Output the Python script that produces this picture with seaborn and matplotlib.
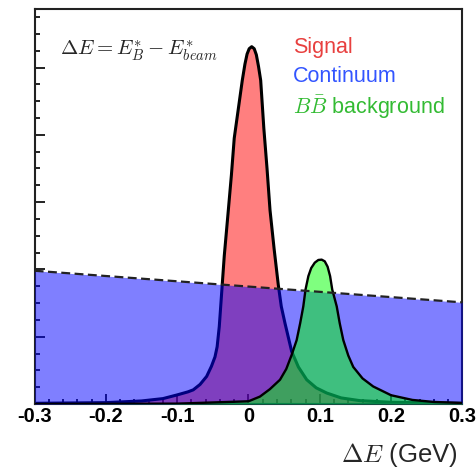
import numpy as np
import pandas as pd
import matplotlib
matplotlib.use("Agg")
import matplotlib.pyplot as plt
import seaborn as sns

# === data (x in GeV, y in arbitrary units) ===
signal_x = [-0.30, -0.20, -0.15, -0.12, -0.10, -0.085, -0.0775, -0.068, -0.0587,
            -0.052, -0.047, -0.044, -0.041, -0.038, -0.034, -0.0283, -0.024,
            -0.020, -0.0087, -0.005, -0.002, 0.001, 0.0045, 0.008, 0.011, 0.014,
            0.0171, 0.0215, 0.026, 0.0302, 0.036, 0.0418, 0.046, 0.0512, 0.0606,
            0.070, 0.0817, 0.095, 0.1097, 0.13, 0.156, 0.20, 0.30]
signal_y = [0.01, 0.02, 0.045, 0.08, 0.135, 0.18, 0.21, 0.29, 0.41,
            0.56, 0.70, 0.85, 1.15, 1.60, 2.20, 2.88, 3.40,
            3.95, 4.81, 5.05, 5.20, 5.28, 5.31, 5.28, 5.19, 5.02,
            4.81, 4.10, 3.50, 2.88, 2.30, 1.77, 1.45, 1.20, 0.78,
            0.55, 0.36, 0.24, 0.163, 0.09, 0.05, 0.025, 0.01]

bb_x = [-0.30, -0.10, 0.0, 0.0161, 0.030, 0.0442, 0.053, 0.0606, 0.0676, 0.0725,
        0.0769, 0.080, 0.084, 0.088, 0.093, 0.098, 0.1027, 0.107, 0.111, 0.1145,
        0.1175, 0.1238, 0.128, 0.133, 0.140, 0.147, 0.160, 0.175, 0.20, 0.23,
        0.26, 0.30]
bb_y = [0.0, 0.005, 0.04, 0.11, 0.22, 0.36, 0.52, 0.73, 0.95, 1.20,
        1.45, 1.70, 1.90, 2.02, 2.10, 2.14, 2.145, 2.12, 2.04, 1.90,
        1.70, 1.45, 1.20, 0.95, 0.72, 0.55, 0.38, 0.26, 0.13, 0.06,
        0.03, 0.015]

cont_x = [-0.30, 0.30]
cont_y = [1.98, 1.51]

xticks = [-0.3, -0.2, -0.1, 0.0, 0.1, 0.2, 0.3]
xtick_labels = ["-0.3", "-0.2", "-0.1", "0", "0.1", "0.2", "0.3"]

sig = pd.DataFrame({"x": signal_x, "y": signal_y})
bb = pd.DataFrame({"x": bb_x, "y": bb_y})
cont = pd.DataFrame({"x": cont_x, "y": cont_y})

sns.set_style("ticks")
plt.rcParams["font.family"] = ["Liberation Sans", "DejaVu Sans"]
plt.rcParams["mathtext.fontset"] = "cm"
plt.rcParams["axes.unicode_minus"] = False

fig = plt.figure(figsize=(4.77, 4.68), dpi=100)
ax = fig.add_axes([0.0727, 0.1368, 0.8965, 0.844])

# signal: red fill + black outline, then the continuum covers it
ax.fill_between(sig["x"], 0, sig["y"], color="red", alpha=0.5, lw=0, zorder=1)
sns.lineplot(data=sig, x="x", y="y", ax=ax, color="black", lw=2.2, zorder=2)

ax.fill_between(cont["x"], 0, cont["y"], color="blue", alpha=0.5, lw=0, zorder=3)

ax.fill_between(bb["x"], 0, bb["y"], color="#00ff00", alpha=0.5, lw=0, zorder=4)
sns.lineplot(data=bb, x="x", y="y", ax=ax, color="black", lw=1.7, zorder=5)

sns.lineplot(data=cont, x="x", y="y", ax=ax, color="#222222", lw=1.6,
             linestyle=(0, (4, 2)), zorder=6)

ax.set_xlim(-0.3, 0.3)
ax.set_ylim(0, 5.87)
ax.set_xticks(xticks)
ax.set_xticklabels(xtick_labels, fontweight="bold", fontsize=14.5, color="black")
ax.set_xticks(np.round(np.arange(-0.3, 0.301, 0.02), 2), minor=True)
ax.set_yticks(np.arange(0, 5.9, 1.0))
ax.set_yticks(np.arange(0, 5.9, 0.25), minor=True)
ax.set_yticklabels([])
ax.tick_params(which="both", direction="in", width=1.4, color="#222222")
ax.tick_params(which="major", length=7)
ax.tick_params(which="minor", length=3.5)
ax.tick_params(axis="x", pad=2)
for s in ax.spines.values():
    s.set_linewidth(1.5)
    s.set_color("#222222")

ax.set_xlabel("")
ax.set_ylabel("")
fig.text(458 / 477, 1 - 455 / 468, r"$\Delta E$ (GeV)", fontsize=18.5,
         ha="right", va="center")

fig.text(60 / 477, 1 - 51 / 468, r"$\Delta E = E^{*}_{B} - E^{*}_{beam}$",
         fontsize=15, ha="left", va="center")

fig.text(293 / 477, 1 - 48 / 468, "Signal", color="#e8403f", fontsize=15.5,
         ha="left", va="center")
fig.text(293 / 477, 1 - 77 / 468, "Continuum", color="#3355ff", fontsize=15.5,
         ha="left", va="center")
fig.text(293 / 477, 1 - 107 / 468, r"$B\bar{B}$ background", color="#33bb33",
         fontsize=15.5, ha="left", va="center")

fig.savefig("out.png", dpi=100)
